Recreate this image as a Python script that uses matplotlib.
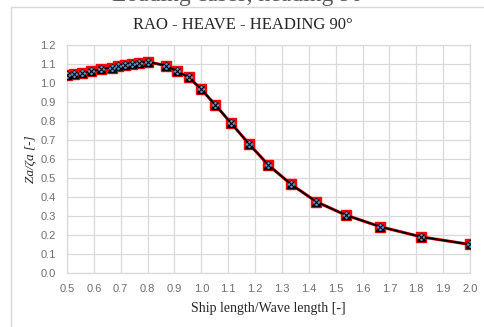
import numpy as np
import matplotlib.pyplot as plt
from matplotlib.patches import Rectangle

# heave RAO, beam seas (heading 90 deg)
lam_over_L = [2.0, 1.9, 1.8, 1.7, 1.6, 1.5, 1.45, 1.4, 1.35, 1.3, 1.25, 1.15, 1.1,
              1.05, 1.0, 0.95, 0.9, 0.85, 0.8, 0.75, 0.7, 0.65, 0.6, 0.55, 0.5]
rao_heave = [1.04, 1.045, 1.05, 1.06, 1.07, 1.08, 1.09, 1.095, 1.10, 1.105, 1.11, 1.09, 1.06,
             1.03, 0.965, 0.883, 0.787, 0.68, 0.567, 0.467, 0.374, 0.304, 0.243, 0.19, 0.15]
x_ticks = [0.5, 0.6, 0.7, 0.8, 0.9, 1.0, 1.1, 1.2, 1.3, 1.4, 1.5, 1.6, 1.7, 1.8, 1.9, 2.0]
y_ticks = [0.0, 0.1, 0.2, 0.3, 0.4, 0.5, 0.6, 0.7, 0.8, 0.9, 1.0, 1.1, 1.2]

L_ratio = 1.0 / np.array(lam_over_L)
rao = np.array(rao_heave)

fig = plt.figure(figsize=(4.85, 3.27), dpi=100)
fig.patch.set_facecolor('white')

# chart frame
fig.patches.append(Rectangle((11/485, -0.2), 1.2, 1.2 - 7/327, transform=fig.transFigure,
                             fill=False, edgecolor='#d9d9d9', lw=1.0))
fig.text(0.5, 1 - 1/327, 'Loading cases, heading 90°', ha='center', va='baseline',
         family='Liberation Serif', fontsize=17, color='#595959')
fig.text(0.5, 1 - 25/327, 'RAO - HEAVE - HEADING 90°', ha='center', va='center',
         family='Liberation Serif', fontsize=12, color='#262626')

ax = fig.add_axes([67/485, 1 - 273/327, (470 - 67)/485, (273 - 44.7)/327])

ax.plot(L_ratio, rao, color='red', lw=2.2, marker='s', ms=7.5, mfc='red', mec='red', zorder=3)
ax.plot(L_ratio, rao, color='black', lw=1.4, marker='^', ms=5.5, mfc='black', mec='black', zorder=4)
ax.plot(L_ratio, rao, ls='none', marker='D', ms=3, mfc='#5b9bd5', mec='#5b9bd5', zorder=5)
ax.plot(L_ratio, rao, ls='none', marker='x', ms=4, mew=0.8, color='black', zorder=6)

ax.set_xlim(0.5, 2.0)
ax.set_ylim(0.0, 1.2)
ax.set_xticks(x_ticks)
ax.set_yticks(y_ticks)
ax.set_xticklabels(['%.1f' % t for t in x_ticks])
ax.set_yticklabels(['%.1f' % t for t in y_ticks])
ax.grid(True, color='#d9d9d9', lw=0.9)
ax.set_axisbelow(True)
for s in ax.spines.values():
    s.set_color('#d9d9d9')
    s.set_linewidth(0.9)
ax.tick_params(length=0, labelsize=8, labelcolor='#6e6e6e', pad=8)
for lbl in ax.get_xticklabels() + ax.get_yticklabels():
    lbl.set_family('Liberation Sans')

ax.set_xlabel('Ship length/Wave length [-]', family='Liberation Serif', fontsize=10,
              color='#262626', labelpad=6)
ax.set_ylabel('Za/ζa [-]', family='Liberation Serif', fontsize=9.5, style='italic',
              color='#262626', labelpad=3)

fig.savefig('out.png', dpi=100)
